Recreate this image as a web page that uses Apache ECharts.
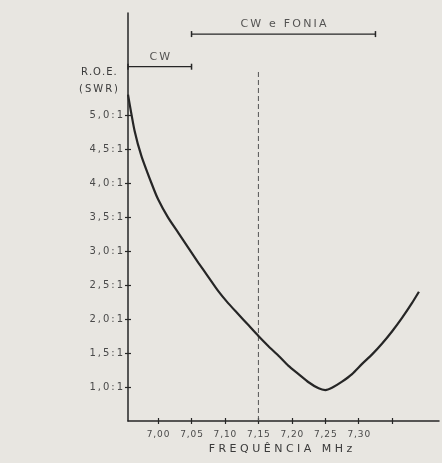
<!DOCTYPE html>
<html><head><meta charset="utf-8">
<script src="https://cdn.jsdelivr.net/npm/echarts@6/dist/echarts.min.js"></script>
<style>html,body{margin:0;padding:0;background:#e8e6e1;}#c{width:442px;height:463px;}</style>
</head><body><div id="c"></div>
<script>
// Data
const freq = [6.955, 6.965, 6.975, 6.990, 7.000, 7.015, 7.030, 7.045, 7.060, 7.075, 7.090, 7.105, 7.120, 7.135, 7.150, 7.165, 7.180, 7.195, 7.210, 7.225, 7.240, 7.250, 7.260, 7.275, 7.290, 7.305, 7.320, 7.335, 7.350, 7.365, 7.380, 7.390];
const swr  = [5.30, 4.76, 4.40, 4.00, 3.76, 3.49, 3.27, 3.05, 2.83, 2.62, 2.41, 2.23, 2.07, 1.91, 1.75, 1.60, 1.46, 1.31, 1.19, 1.07, 0.98, 0.955, 0.99, 1.08, 1.19, 1.34, 1.48, 1.64, 1.82, 2.02, 2.24, 2.40];
const xTicks = [7.00, 7.05, 7.10, 7.15, 7.20, 7.25, 7.30, 7.35];
const xLabels = [7.00, 7.05, 7.10, 7.15, 7.20, 7.25, 7.30];
const yTicks = [1.0, 1.5, 2.0, 2.5, 3.0, 3.5, 4.0, 4.5, 5.0];
const bandNames = ['CW', 'CW e FONIA'];
const bandStart = [6.955, 7.05];
const bandEnd = [7.05, 7.325];
const bandLevel = [5.71, 6.19];
const markerFreq = 7.15;
const markerTop = 5.66;

const ink = '#262626';
const txt = '#4a4a4a';
const font = 'DejaVu Sans';
const sp = (s, c) => s.split('').join(c || '\u2009');

const chart = echarts.init(document.getElementById('c'), null, {renderer: 'canvas'});
const curve = freq.map((f, i) => [f, swr[i]]);
const fmt = v => sp(v.toFixed(2).replace('.', ','), '\u200a');
const fmtY = v => sp(v.toFixed(1).replace('.', ',') + ':1');

const bandSeries = bandNames.map((n, i) => ({
  type: 'line', data: [[bandStart[i], bandLevel[i]], [bandEnd[i], bandLevel[i]]],
  symbol: 'rect', symbolSize: [1.5, 6], itemStyle: {color: ink},
  lineStyle: {color: ink, width: 1.3}
}));
const bandLabels = {
  type: 'scatter', symbolSize: 0,
  data: bandNames.map((n, i) => ({name: n, value: [(bandStart[i] + bandEnd[i]) / 2, bandLevel[i]]})),
  label: {show: true, formatter: p => sp(p.name), position: 'top', distance: 4, color: '#2e2e2e', fontSize: 11, fontFamily: font}
};

chart.setOption({
  backgroundColor: '#e8e6e1',
  animation: false,
  grid: {left: 128, right: 3, top: 13, bottom: 42, containLabel: false},
  xAxis: [{
    type: 'value', min: 6.955, max: 7.42,
    axisLine: {show: true, lineStyle: {color: ink, width: 1.5}},
    axisTick: {show: true, customValues: xTicks, length: 3, lineStyle: {color: ink, width: 1.2}},
    axisLabel: {show: true, customValues: xLabels, formatter: fmt, color: txt, fontSize: 9, fontFamily: font, margin: 9},
    splitLine: {show: false},
    name: sp('FREQUÊNCIA', ' ') + '   ' + sp('MHz', ' '), nameLocation: 'middle', nameGap: 23,
    nameTextStyle: {color: '#3a3a3a', fontSize: 11, fontFamily: font, padding: [0, 6, 0, 0]}
  }, {
    type: 'value', min: 6.955, max: 7.42, position: 'bottom',
    axisLine: {show: false},
    axisTick: {show: true, inside: true, customValues: xTicks, length: 3, lineStyle: {color: ink, width: 1.2}},
    axisLabel: {show: false}, splitLine: {show: false}
  }],
  yAxis: [{
    type: 'value', min: 0.5, max: 6.5,
    axisLine: {show: true, lineStyle: {color: ink, width: 1.5}},
    axisTick: {show: true, customValues: yTicks, length: 3, lineStyle: {color: ink, width: 1.2}},
    axisLabel: {show: true, customValues: yTicks, formatter: fmtY, color: txt, fontSize: 10, fontFamily: font, margin: 5},
    splitLine: {show: false}
  }, {
    type: 'value', min: 0.5, max: 6.5, position: 'left',
    axisLine: {show: false},
    axisTick: {show: true, inside: true, customValues: yTicks, length: 3, lineStyle: {color: ink, width: 1.2}},
    axisLabel: {show: false}, splitLine: {show: false}
  }],
  graphic: [
    {type: 'text', left: 81, top: 67, style: {text: sp('R.O.E.', '\u200a'), fill: '#3a3a3a', font: '10px "DejaVu Sans"'}},
    {type: 'text', left: 79, top: 84, style: {text: sp('(SWR)'), fill: '#3a3a3a', font: '10px "DejaVu Sans"'}}
  ],
  series: [
    {type: 'line', data: curve, smooth: 0.2, symbol: 'none', lineStyle: {color: ink, width: 2.2}, z: 5},
    {type: 'line', data: [[markerFreq, 0.5], [markerFreq, markerTop]], symbol: 'none', lineStyle: {color: '#555', width: 1, type: [5, 3]}},
    ...bandSeries,
    bandLabels
  ]
});
</script>
</body></html>
